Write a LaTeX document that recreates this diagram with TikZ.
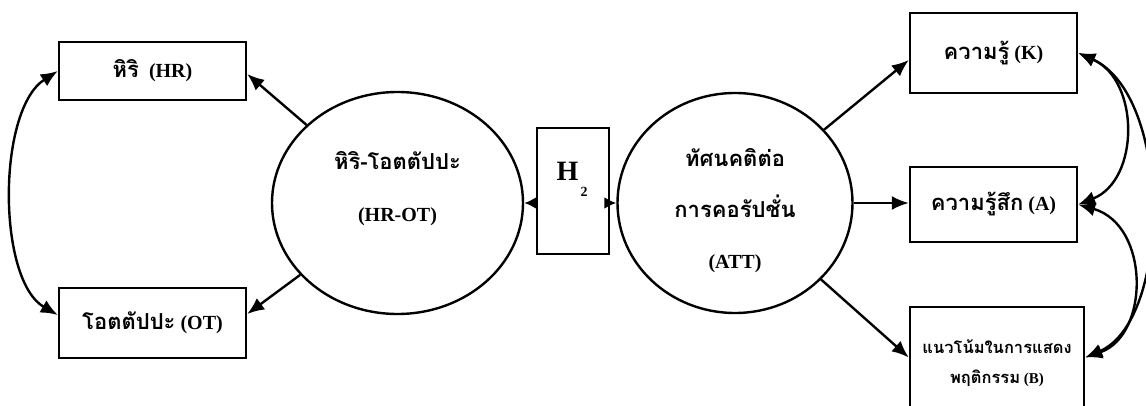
\documentclass[tikz,border=0pt]{standalone}
\usepackage{fontspec}
\setmainfont{Liberation Serif}
\newfontfamily\thai[Script=Thai,Scale=1.1]{Loma}
\usetikzlibrary{shapes.geometric,arrows.meta,calc}
\begin{document}
\begin{tikzpicture}[x=1pt,y=-1pt,line width=2.4pt,
  box/.style={draw,rectangle,inner sep=0pt,align=center,font=\bfseries\fontsize{20}{24}\selectfont},
  ell/.style={draw,ellipse,inner sep=0pt},
  lbl/.style={inner sep=0pt,align=center,font=\bfseries\fontsize{20}{52}\selectfont},
  arr/.style={-{Latex[length=17pt,width=14pt]}},
  dbl/.style={{Latex[length=17pt,width=14pt]}-{Latex[length=17pt,width=14pt]}},
  sarr/.style={-{Latex[length=12pt,width=12pt]}}]
\useasboundingbox (0,0) rectangle (1146,406);
\clip (0,0) rectangle (1146,406);
% left boxes
\node[box,minimum width=187,minimum height=58] (hr) at (152.5,71) {{\thai หิริ}\ \ (HR)};
\node[box,minimum width=187,minimum height=70] (ot) at (152.5,323) {{\thai โอตตัปปะ} (OT)};
% ellipses
\node[ell,minimum width=251,minimum height=222] (hrot) at (397.5,203) {};
\node[lbl] (hrotlbl) at (397.5,189) {{\thai หิริ-โอตตัปปะ}\\(HR-OT)};
\node[ell,minimum width=235,minimum height=220] (att) at (735,203) {};
\node[lbl,font=\bfseries\fontsize{20}{51}\selectfont] (attlbl) at (735,211) {{\thai ทัศนคติต่อ}\\{\thai การคอรัปชั่น}\\(ATT)};
% H2 box
\node[box,minimum width=72,minimum height=126] (h2) at (573,191) {};
\node[inner sep=0pt,font=\bfseries\fontsize{28}{28}\selectfont] (hh) at (567.5,171) {H};
\node[inner sep=0pt,font=\bfseries\fontsize{14}{14}\selectfont] (two) at (584,192) {2};
% right boxes
\node[box,minimum width=167,minimum height=80] (k) at (993.5,53) {{\thai ความรู้} (K)};
\node[box,minimum width=167,minimum height=75] (a) at (993.5,204.5) {{\thai ความรู้สึก} (A)};
\node[box,minimum width=174,minimum height=113,font=\bfseries\fontsize{15}{30}\selectfont] (b) at (997,363.5) {{\thai แนวโน้มในการแสดง}\\{\thai พฤติกรรม} (B)};
% connectors
\draw[arr] (hrot) -- ([yshift=-3pt]hr.east);
\draw[arr] (hrot) -- ([yshift=9pt]ot.east);
\draw[dbl] (hr.west) .. controls (-3,110) and (-3,280) .. ([yshift=8pt]ot.west);
\draw[sarr] (h2.west |- hrot.east) -- (hrot.east);
\draw[sarr] (h2.east |- att.west) -- (att.west);
\draw[arr] (att) -- ([yshift=-7pt]k.west);
\draw[arr] (att.east) -- (a.west |- att.east);
\draw[arr] (att) -- ([yshift=6pt]b.west);
\draw[dbl] (k.east) .. controls (1140,80) and (1140,180) .. (a.east);
\draw[dbl] (a.east) .. controls (1150,225) and (1150,335) .. ([yshift=6pt]b.east);
\draw[dbl] (k.east) .. controls (1172,95) and (1172,320) .. ([yshift=6pt]b.east);
\end{tikzpicture}
\end{document}
